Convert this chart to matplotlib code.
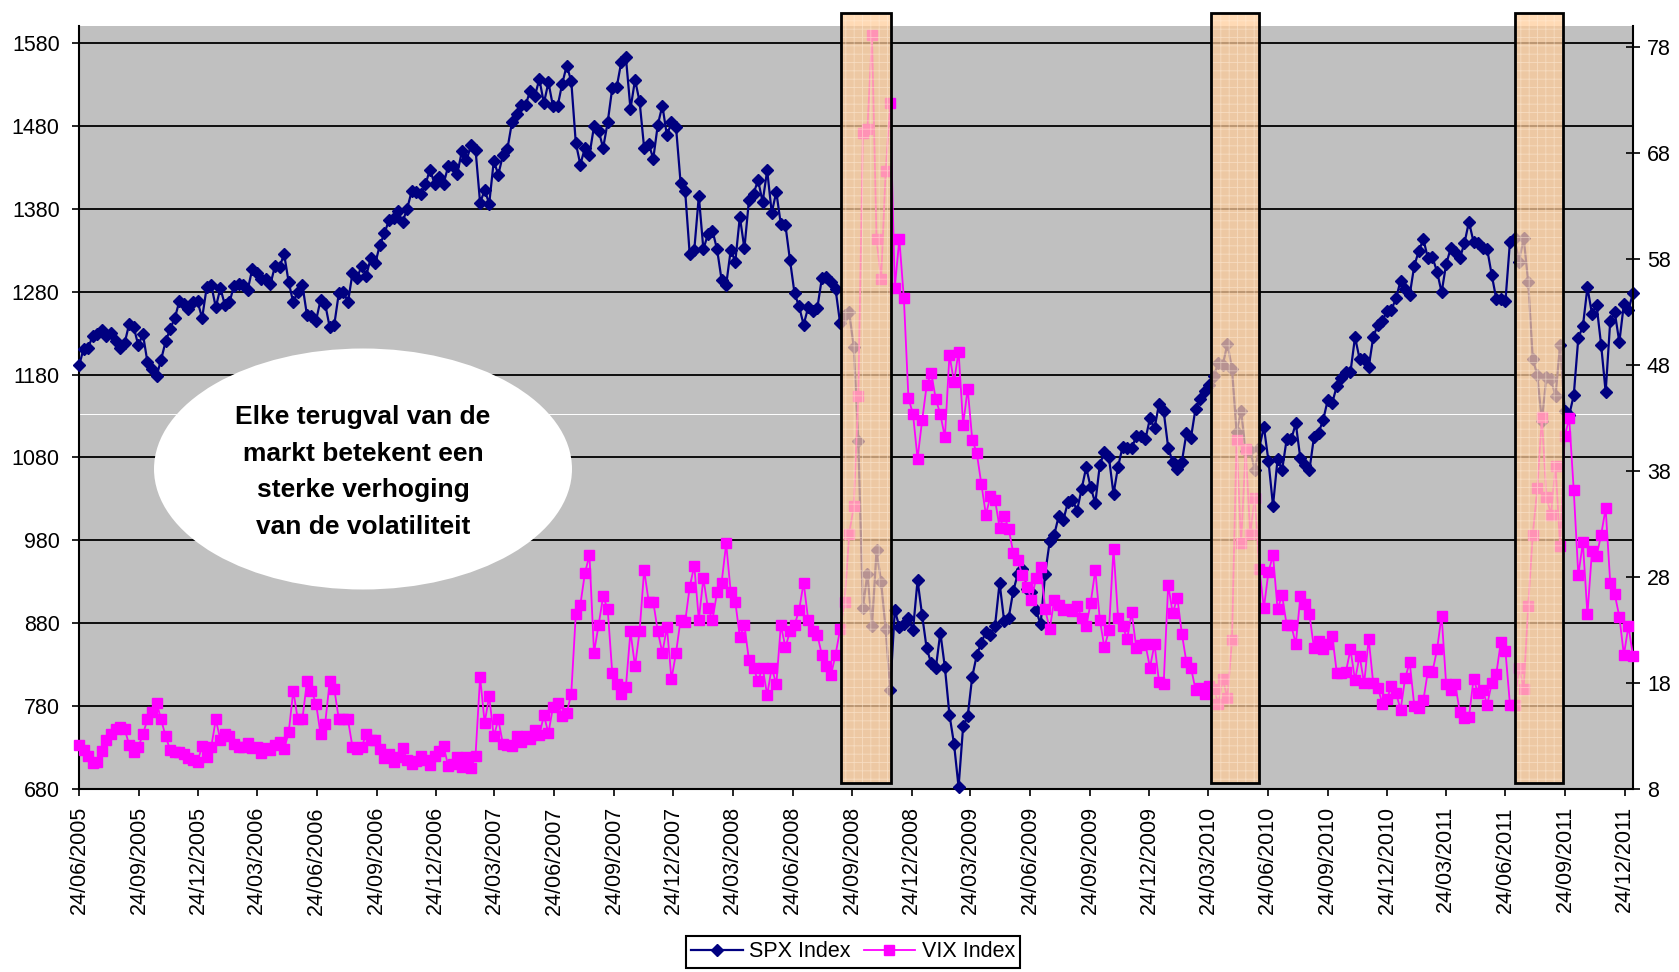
import pandas as pd
import matplotlib
matplotlib.use('Agg')
import matplotlib.pyplot as plt
import matplotlib.dates as mdates
from matplotlib import font_manager
from matplotlib.patches import Rectangle, Ellipse
from matplotlib.transforms import blended_transform_factory

# wekelijkse slotkoersen (vrijdag), vanaf 24/06/2005
spx_2005 = [1191, 1211, 1212, 1227, 1229, 1234, 1226, 1230, 1220, 1212, 1218, 1241, 1237, 1215,
            1229, 1195, 1187, 1178, 1198, 1220, 1235, 1248, 1268, 1265, 1259, 1267, 1268, 1248]
spx_2006 = [1285, 1288, 1261, 1284, 1264, 1267, 1287, 1289, 1288, 1282, 1307, 1302, 1295, 1295,
            1289, 1311, 1310, 1325, 1291, 1267, 1280, 1288, 1252, 1251, 1245, 1270, 1265, 1237,
            1240, 1278, 1280, 1267, 1302, 1296, 1311, 1299, 1320, 1314, 1336, 1350, 1366, 1369,
            1377, 1364, 1380, 1401, 1400, 1397, 1409, 1427, 1410, 1418]
spx_2007 = [1410, 1431, 1431, 1422, 1449, 1438, 1456, 1451, 1387, 1402, 1386, 1437, 1421, 1444,
            1452, 1484, 1494, 1505, 1505, 1522, 1515, 1536, 1507, 1532, 1503, 1503, 1530, 1552,
            1534, 1459, 1433, 1453, 1445, 1479, 1474, 1453, 1484, 1525, 1527, 1557, 1562, 1500,
            1535, 1509, 1453, 1458, 1440, 1481, 1504, 1468, 1484, 1478]
spx_2008 = [1411, 1401, 1325, 1330, 1395, 1331, 1349, 1353, 1331, 1294, 1288, 1330, 1316, 1370,
            1332, 1390, 1398, 1414, 1388, 1426, 1375, 1400, 1361, 1360, 1318, 1278, 1262, 1240,
            1261, 1257, 1260, 1296, 1298, 1292, 1283, 1242, 1252, 1255, 1213, 1100, 899, 940,
            877, 968, 930, 873, 800, 896, 876, 879, 887, 872]
spx_2009 = [932, 890, 850, 832, 826, 869, 827, 770, 735, 683, 756, 768, 816, 842, 857, 870,
            866, 877, 929, 883, 887, 919, 940, 946, 921, 918, 896, 879, 940, 979, 987, 1010,
            1005, 1026, 1029, 1016, 1042, 1068, 1044, 1025, 1071, 1087, 1080, 1036, 1069, 1093,
            1091, 1091, 1106, 1106, 1102, 1127]
spx_2010 = [1115, 1145, 1136, 1092, 1074, 1066, 1075, 1109, 1104, 1139, 1150, 1160, 1167, 1178,
            1194, 1192, 1217, 1187, 1111, 1136, 1088, 1089, 1065, 1092, 1117, 1076, 1022, 1078,
            1065, 1102, 1102, 1121, 1079, 1071, 1065, 1105, 1110, 1125, 1149, 1146, 1166, 1176,
            1183, 1183, 1225, 1199, 1199, 1189, 1225, 1240, 1244, 1257, 1258]
spx_2011 = [1272, 1293, 1283, 1276, 1311, 1329, 1343, 1320, 1321, 1304, 1279, 1313, 1332, 1328,
            1320, 1338, 1364, 1340, 1338, 1333, 1331, 1300, 1271, 1271, 1268, 1340, 1344, 1316,
            1345, 1292, 1199, 1179, 1124, 1177, 1174, 1154, 1216, 1136, 1131, 1155, 1224, 1238,
            1285, 1253, 1264, 1216, 1159, 1244, 1255, 1219, 1265, 1258]
spx_2012 = [1278]

vix_2005 = [12.2, 11.7, 11.2, 10.5, 10.6, 11.6, 12.7, 13.2, 13.7, 13.9, 13.7, 12.2, 11.5, 12.0,
            13.2, 14.6, 15.3, 16.2, 14.6, 13.0, 11.7, 11.5, 11.5, 11.3, 11.0, 10.8, 10.6, 12.1]
vix_2006 = [11.1, 12.0, 14.6, 12.7, 13.2, 13.0, 12.3, 12.0, 12.0, 12.4, 11.9, 12.0, 11.4, 11.9,
            11.7, 12.2, 12.5, 11.8, 13.4, 17.3, 14.6, 14.6, 18.2, 17.3, 16.1, 13.2, 14.2, 18.2,
            17.5, 14.6, 14.6, 14.6, 12.0, 11.8, 12.0, 13.2, 12.7, 12.7, 11.8, 11.0, 11.3, 10.6,
            11.1, 11.9, 10.8, 10.4, 10.7, 11.2, 10.8, 10.3, 11.2, 11.6]
vix_2007 = [12.1, 10.2, 10.4, 11.1, 10.1, 11.1, 10.0, 11.2, 18.6, 14.3, 16.8, 13.0, 14.6, 12.3,
            12.2, 12.1, 13.0, 12.5, 13.0, 12.8, 13.6, 13.1, 15.0, 13.3, 15.8, 16.2, 14.9, 15.2,
            17.0, 24.5, 25.4, 28.4, 30.1, 20.9, 23.5, 26.2, 25.0, 19.0, 17.9, 17.0, 17.7, 22.9,
            19.6, 22.9, 28.7, 25.7, 25.7, 22.9, 20.9, 23.3, 18.4, 20.9]
vix_2008 = [24.0, 23.8, 27.1, 29.1, 24.0, 27.9, 25.1, 24.0, 26.6, 27.5, 31.2, 26.6, 25.7, 22.4,
            23.5, 20.2, 19.5, 18.2, 19.5, 16.9, 19.5, 17.9, 23.5, 21.4, 22.9, 23.5, 24.9, 27.5,
            24.0, 22.9, 22.6, 20.7, 19.6, 18.8, 20.7, 23.1, 25.7, 32.1, 34.7, 45.1, 69.9, 70.3,
            79.1, 59.9, 56.1, 66.3, 72.7, 55.3, 59.9, 54.3, 44.9, 43.4]
vix_2009 = [39.2, 42.8, 46.1, 47.3, 44.8, 43.4, 41.2, 49.0, 46.4, 49.3, 42.4, 45.8, 41.0, 39.7,
            36.8, 33.9, 35.7, 35.3, 32.7, 33.8, 32.6, 30.3, 29.6, 28.2, 27.1, 25.9, 27.9, 29.0,
            25.0, 23.1, 25.9, 25.4, 24.9, 25.0, 24.8, 25.3, 24.2, 23.4, 25.6, 28.7, 24.0, 21.4,
            23.0, 30.7, 24.2, 23.4, 22.2, 24.7, 21.3, 21.6, 21.7, 19.5]
vix_2010 = [21.7, 18.1, 17.9, 27.3, 24.6, 26.1, 22.7, 20.0, 19.5, 17.4, 17.6, 17.0, 17.8, 17.5,
            16.1, 18.4, 16.6, 22.1, 41.0, 31.2, 40.1, 32.1, 35.5, 28.8, 25.1, 28.5, 30.1, 25.0,
            26.3, 23.5, 23.5, 21.7, 26.2, 25.5, 24.5, 21.3, 22.0, 21.2, 21.7, 22.5, 19.0, 19.0,
            19.1, 21.2, 18.3, 20.6, 18.0, 22.2, 18.0, 17.6, 16.1, 16.5, 17.8]
vix_2011 = [17.1, 15.5, 18.5, 20.0, 15.9, 15.7, 16.4, 19.2, 19.1, 21.2, 24.4, 17.9, 17.4, 17.9,
            15.3, 14.7, 14.8, 18.4, 17.1, 17.4, 16.0, 18.0, 18.9, 21.9, 21.1, 16.0, 16.0, 19.5,
            17.5, 25.3, 32.0, 36.4, 43.1, 35.6, 33.9, 38.5, 31.0, 41.3, 43.0, 36.2, 28.2, 31.3,
            24.5, 30.5, 30.0, 32.0, 34.5, 27.5, 26.4, 24.3, 20.7, 23.4]
vix_2012 = [20.6]

spx = spx_2005 + spx_2006 + spx_2007 + spx_2008 + spx_2009 + spx_2010 + spx_2011 + spx_2012
vix = vix_2005 + vix_2006 + vix_2007 + vix_2008 + vix_2009 + vix_2010 + vix_2011 + vix_2012
dates = pd.date_range('2005-06-24', periods=len(spx), freq='W-FRI')

# periodes van terugval (kaders)
terugval = [('2008-09-07', '2008-11-22'), ('2010-03-28', '2010-06-10'), ('2011-07-08', '2011-09-20')]

# smal lettertype als het er is
names = {f.name for f in font_manager.fontManager.ttflist}
if 'Liberation Sans Narrow' in names:
    plt.rcParams['font.family'] = ['Liberation Sans Narrow', 'DejaVu Sans']
    fs_tick, fs_note = 18.5, 23
else:
    plt.rcParams['font.family'] = ['Liberation Sans', 'DejaVu Sans']
    fs_tick, fs_note = 15.5, 19
plt.rcParams['hatch.linewidth'] = 0.6

fig = plt.figure(figsize=(16.79, 9.72), dpi=100)
ax = fig.add_axes([0.0471, 0.1878, 0.9255, 0.7855])
ax.set_facecolor('#c0c0c0')
ax.set_ylim(680, 1600)
ax.set_yticks(range(680, 1581, 100))
ax.yaxis.grid(True, color='black', lw=1.3)
ax.set_axisbelow(True)
ax.axhline(1133, color='white', lw=0.7, zorder=1.5)

ax.set_xlim(dates[0], dates[-1])
ticks = [pd.Timestamp('2005-06-24') + pd.DateOffset(months=3 * i) for i in range(27)]
ax.set_xticks(ticks)
ax.xaxis.set_major_formatter(mdates.DateFormatter('%d/%m/%Y'))
ax.tick_params(axis='x', length=5, width=1.2, pad=7, labelsize=fs_tick, labelrotation=90)
ax.tick_params(axis='y', length=5, width=1.2, pad=9, labelsize=fs_tick)
for s in ['top', 'right']:
    ax.spines[s].set_visible(False)
for s in ['left', 'bottom']:
    ax.spines[s].set_linewidth(1.5)

l1, = ax.plot(dates, spx, color='#000080', lw=1.6, marker='D', ms=6,
              clip_on=False, zorder=3, label='SPX Index')

ax2 = ax.twinx()
ax2.set_ylim(8, 80)
ax2.set_yticks(range(8, 79, 10))
ax2.tick_params(axis='y', direction='inout', length=10, width=1.2, pad=5, labelsize=fs_tick)
for s in ['top', 'left', 'bottom']:
    ax2.spines[s].set_visible(False)
ax2.spines['right'].set_linewidth(1.5)

l2, = ax2.plot(dates, vix, color='#ff00ff', lw=1.3, marker='s', ms=6.8,
               clip_on=False, zorder=3, label='VIX Index')

# kaders rond de terugvallen
tr = blended_transform_factory(ax2.transData, ax2.transAxes)
for a, b in terugval:
    x0 = mdates.date2num(pd.Timestamp(a))
    w = mdates.date2num(pd.Timestamp(b)) - x0
    ax2.add_patch(Rectangle((x0, 0.009), w, 1.008, transform=tr, facecolor=(1, 0.8, 0.6, 0.72),
                            edgecolor='none', clip_on=False, zorder=5))
    ax2.add_patch(Rectangle((x0, 0.009), w, 1.008, transform=tr, fill=False, hatch='++',
                            edgecolor=(1, 0.93, 0.85, 0.55), lw=0, clip_on=False, zorder=5.1))
    ax2.add_patch(Rectangle((x0, 0.009), w, 1.008, transform=tr, fill=False,
                            edgecolor='black', lw=2, clip_on=False, zorder=5.2))

# ovaal met tekst
ax2.add_patch(Ellipse((363 / 1679, 1 - 469 / 972), 418 / 1679, 241 / 972, transform=fig.transFigure,
                      facecolor='white', edgecolor='none', clip_on=False, zorder=6))
ax2.text(363 / 1679, 1 - 472 / 972,
         'Elke terugval van de\nmarkt betekent een\nsterke verhoging\nvan de volatiliteit',
         transform=fig.transFigure, ha='center', va='center', fontsize=fs_note,
         fontweight='bold', linespacing=1.68, zorder=7)

leg = fig.legend([l1, l2], ['SPX Index', 'VIX Index'], loc='upper center',
                 bbox_to_anchor=(853 / 1679, 1 - 936 / 972), ncol=2, fontsize=fs_tick,
                 frameon=True, fancybox=False, edgecolor='black', framealpha=1,
                 handlelength=2.4, handletextpad=0.3, columnspacing=0.6, borderpad=0.25,
                 borderaxespad=0)
leg.get_frame().set_linewidth(1.5)

fig.savefig('out.png', dpi=100)
